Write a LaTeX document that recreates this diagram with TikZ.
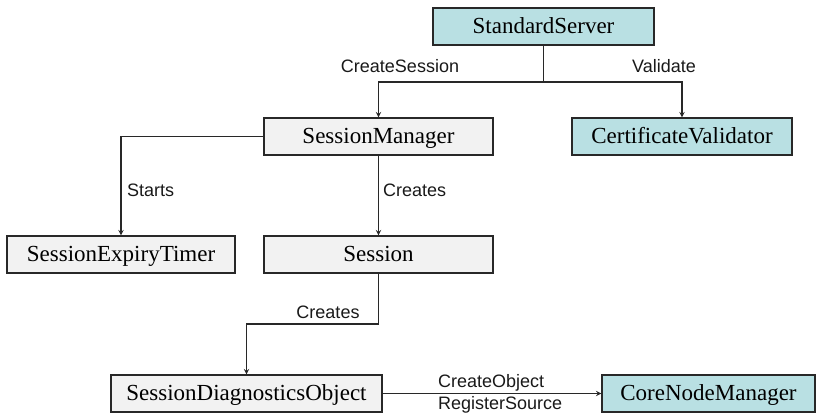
\documentclass[tikz,border=0pt]{standalone}
\usepackage{fontspec}
\usepackage{xcolor}
\usepackage{tikz}
\newfontfamily\boxfont{Liberation Serif}
\newfontfamily\labelfont{Liberation Sans}
\definecolor{serverteal}{RGB}{185,224,227}
\definecolor{sessiongray}{RGB}{242,242,242}
\definecolor{edgegray}{RGB}{40,40,40}

\tikzset{
  classbox/.style={draw=edgegray, line width=1.2pt, fill=sessiongray, inner sep=0pt,
    minimum height=37pt, text depth=2pt, font=\boxfont\fontsize{23}{26}\selectfont},
  corebox/.style={classbox, fill=serverteal},
  callline/.style={draw=edgegray, line width=1.4pt},
  calllabel/.style={inner sep=0pt, font=\labelfont\fontsize{18}{20}\selectfont, text=black!90}
}

\begin{document}
\begin{tikzpicture}[x=1pt, y=-1pt, >=stealth]
    % Canvas
    \useasboundingbox (0,0) rectangle (822,413);

    % Classes
    \node[corebox, minimum width=221pt] (server) at (543.5,26.5) {StandardServer};
    \node[classbox, minimum width=229pt] (manager) at (378.5,136.5) {SessionManager};
    \node[corebox, minimum width=220pt] (validator) at (682,136.5) {CertificateValidator};
    \node[classbox, minimum width=228pt] (timer) at (121,254.5) {SessionExpiryTimer};
    \node[classbox, minimum width=229pt] (session) at (378.5,254.5) {Session};
    \node[classbox, minimum width=271pt] (diag) at (246.5,393.5) {SessionDiagnosticsObject};
    \node[corebox, minimum width=213pt] (core) at (708.5,393.5) {CoreNodeManager};

    % Bends
    \coordinate (split) at (543.5,82);
    \coordinate (turn) at (378.5,324);

    % StandardServer calls
    \draw[callline] (server.south) -- (split);
    \draw[callline, ->] (split) -| (manager.north);
    \draw[callline, ->] (split) -| (validator.north);
    \node[calllabel] (createsession) at (400,66) {CreateSession};
    \node[calllabel] (validate) at (664,66) {Validate};

    % SessionManager calls
    \draw[callline, ->] (manager.west) -| (timer.north);
    \draw[callline, ->] (manager.south) -- (session.north);
    \node[calllabel, anchor=west] (starts) at (127,190) {Starts};
    \node[calllabel, anchor=west] (creates) at (383,190) {Creates};

    % Session calls
    \draw[callline] (session.south) -- (turn);
    \draw[callline, ->] (turn) -| (diag.north);
    \node[calllabel] (createsdiag) at (328,312) {Creates};

    % Diagnostics object calls
    \draw[callline, ->] (diag.east) -- (core.west);
    \node[calllabel, anchor=west] (createobject) at (438,383) {CreateObject};
    \node[calllabel, anchor=west] (registersource) at (438,405) {RegisterSource};
\end{tikzpicture}
\end{document}
